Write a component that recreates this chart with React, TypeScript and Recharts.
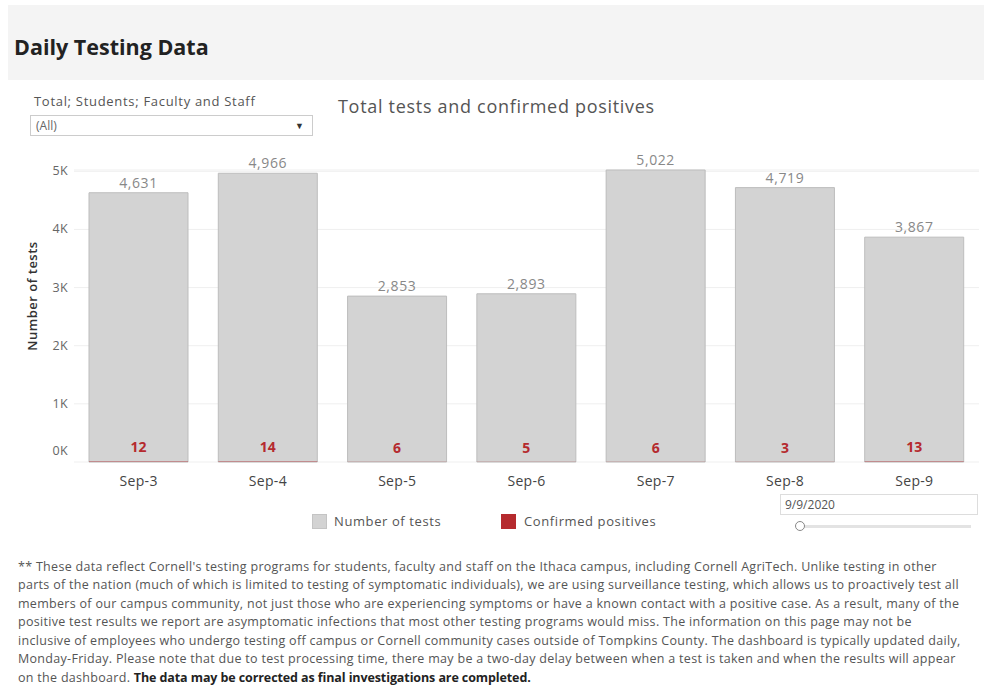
import React from 'react';
import { BarChart, Bar, XAxis, YAxis, CartesianGrid, LabelList } from 'recharts';

const days = ['Sep-3', 'Sep-4', 'Sep-5', 'Sep-6', 'Sep-7', 'Sep-8', 'Sep-9'];
const totalTests = [4631, 4966, 2853, 2893, 5022, 4719, 3867];
const confirmedPositives = [12, 14, 6, 5, 6, 3, 13];
const yTicks = [0, 1000, 2000, 3000, 4000, 5000];

const footnoteLines = [
  "** These data reflect Cornell's testing programs for students, faculty and staff on the Ithaca campus, including Cornell AgriTech. Unlike testing in other",
  'parts of the nation (much of which is limited to testing of symptomatic individuals), we are using surveillance testing, which allows us to proactively test all',
  'members of our campus community, not just those who are experiencing symptoms or have a known contact with a positive case. As a result, many of the',
  'positive test results we report are asymptomatic infections that most other testing programs would miss. The information on this page may not be',
  'inclusive of employees who undergo testing off campus or Cornell community cases outside of Tompkins County. The dashboard is typically updated daily,',
  'Monday-Friday. Please note that due to test processing time, there may be a two-day delay between when a test is taken and when the results will appear',
];

const data = days.map((d, i) => ({
  day: d,
  tests: totalTests[i],
  positives: confirmedPositives[i],
}));

const FONT = '"Open Sans", "Noto Sans", sans-serif';
const GRAY = '#d3d3d3';
const RED = '#b52a2e';

const YTick = (props: any) => {
  const { x, y, payload } = props;
  const v = payload.value;
  return (
    <text x={x} y={v === 0 ? y - 11 : y} dy={4} textAnchor="end" fontSize={12.5} fill="#666" fontFamily={FONT} letterSpacing={0.3}>
      {`${v / 1000}K`}
    </text>
  );
};

const PositiveLabel = (props: any) => {
  const { x, y, width, value } = props;
  return (
    <text x={x + width / 2} y={y - 9} textAnchor="middle" fontSize={14} fontWeight="bold" fill={RED} fontFamily={FONT}>
      {value}
    </text>
  );
};

const abs = (style: React.CSSProperties): React.CSSProperties => ({ position: 'absolute', ...style });

const noteStyle = (i: number): React.CSSProperties =>
  abs({ left: 18, top: 558.5 + i * 18.5, fontSize: 12.5, lineHeight: '15px', color: '#555', whiteSpace: 'nowrap', letterSpacing: 0.3 });

export default function App() {
  return (
    <div style={{ position: 'absolute', left: 0, top: 0, width: 992, height: 685, background: '#fff', fontFamily: FONT, overflow: 'hidden' }}>
      <div style={abs({ left: 8, top: 5, width: 976, height: 75, background: '#f4f4f4' })} />
      <div style={abs({ left: 14, top: 32, fontSize: 21.5, fontWeight: 700, color: '#222' })}>Daily Testing Data</div>

      <div style={abs({ left: 34, top: 92, fontSize: 13, color: '#555', letterSpacing: 0.7 })}>Total; Students; Faculty and Staff</div>
      <div style={abs({ left: 30, top: 115, width: 283, height: 21, border: '1px solid #ccc', boxSizing: 'border-box', fontSize: 12, color: '#666', lineHeight: '19px', paddingLeft: 5 })}>
        (All)
        <span style={abs({ right: 8, top: 0, fontSize: 9, color: '#333' })}>▼</span>
      </div>
      <div style={abs({ left: 338, top: 94, fontSize: 18, color: '#555', letterSpacing: 0.7 })}>Total tests and confirmed positives</div>

      <div style={abs({ left: 0, top: 0 })}>
        <BarChart width={992} height={685} data={data} margin={{ top: 170, right: 13, left: 0, bottom: 193 }} barSize={99}>
          <CartesianGrid vertical={false} stroke="#efefef" />
          <XAxis dataKey="day" axisLine={false} tickLine={false} height={30} tick={{ fontSize: 14, fill: '#444', fontFamily: FONT, letterSpacing: 0.3 }} tickMargin={8} />
          <XAxis dataKey="day" xAxisId="pos" hide />
          <YAxis domain={[0, 5000]} ticks={yTicks} width={74} axisLine={false} tickLine={false} tickSize={4} tick={<YTick />} />
          <Bar dataKey="tests" fill={GRAY} stroke="#bdbdbd" strokeWidth={1} isAnimationActive={false}>
            <LabelList dataKey="tests" position="top" offset={5} fontSize={14} fill="#888" fontFamily={FONT} letterSpacing={0.6} formatter={(v: any) => Number(v).toLocaleString('en-US')} />
          </Bar>
          <Bar dataKey="positives" xAxisId="pos" fill={RED} fillOpacity={0.5} isAnimationActive={false}>
            <LabelList dataKey="positives" content={<PositiveLabel />} />
          </Bar>
        </BarChart>
      </div>

      <div style={abs({ left: 32, top: 296, transform: 'translate(-50%, -50%) rotate(-90deg)', fontSize: 13, fontWeight: 600, color: '#333', whiteSpace: 'nowrap', letterSpacing: 0.5 })}>
        Number of tests
      </div>

      <div style={abs({ left: 312, top: 514, width: 15, height: 15, background: GRAY, border: '1px solid #c4c4c4', boxSizing: 'border-box' })} />
      <div style={abs({ left: 334, top: 512, fontSize: 13, color: '#555', letterSpacing: 0.6 })}>Number of tests</div>
      <div style={abs({ left: 501, top: 514, width: 15, height: 15, background: RED })} />
      <div style={abs({ left: 524, top: 512, fontSize: 13, color: '#555', letterSpacing: 0.6 })}>Confirmed positives</div>

      <div style={abs({ left: 780, top: 494, width: 198, height: 21, border: '1px solid #ddd', boxSizing: 'border-box', fontSize: 12, color: '#555', lineHeight: '19px', paddingLeft: 4 })}>9/9/2020</div>
      <div style={abs({ left: 796, top: 525, width: 175, height: 3, background: '#e3e3e3' })} />
      <div style={abs({ left: 795, top: 521, width: 10, height: 10, borderRadius: '50%', border: '1.5px solid #888', background: '#fff', boxSizing: 'border-box' })} />

      {footnoteLines.map((line, i) => (
        <div key={i} style={noteStyle(i)}>{line}</div>
      ))}
      <div style={noteStyle(6)}>
        on the dashboard. <b style={{ color: '#222', letterSpacing: -0.1 }}>The data may be corrected as final investigations are completed.</b>
      </div>
    </div>
  );
}
